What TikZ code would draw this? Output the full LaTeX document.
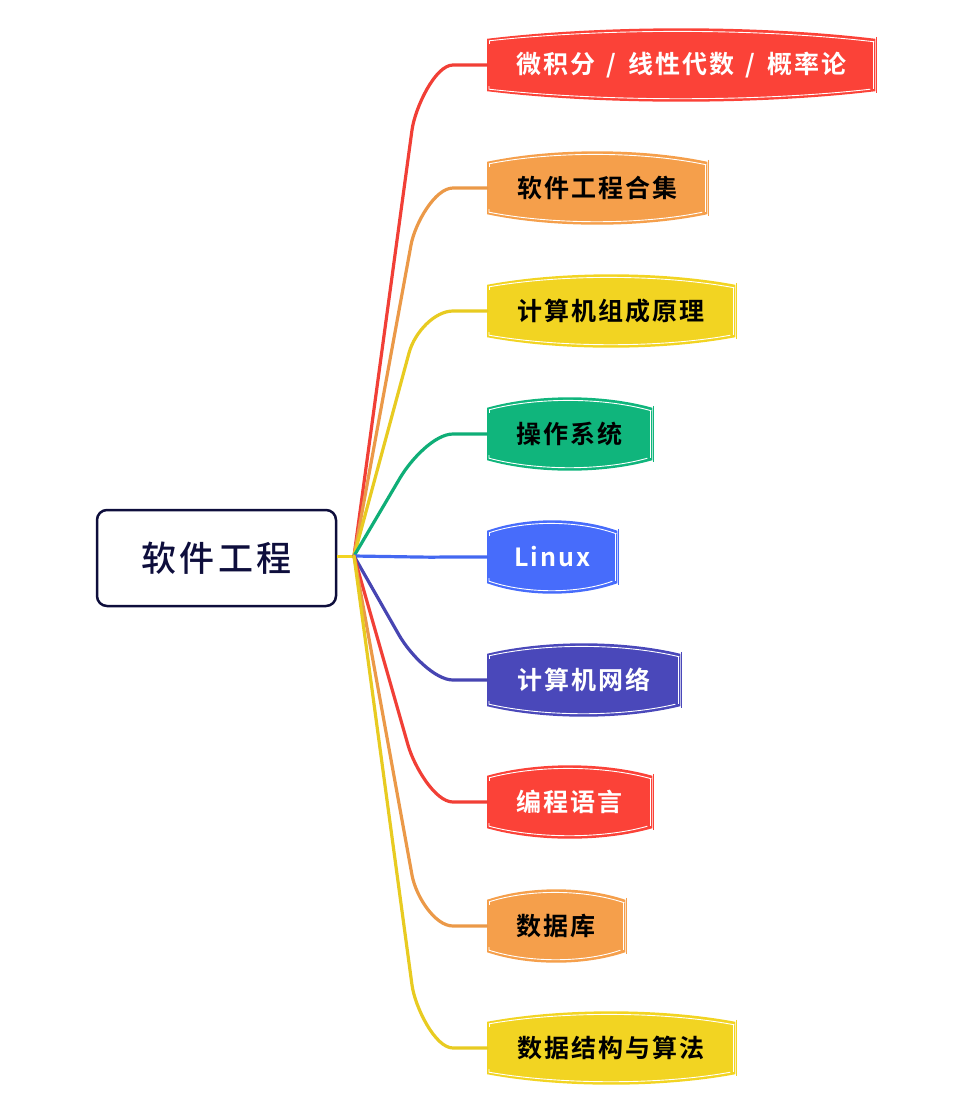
\documentclass[tikz,border=0pt]{standalone}
\usepackage{fontspec}
\usetikzlibrary{calc,backgrounds}
\newfontfamily\cjkbold[LetterSpace=8]{Noto Sans CJK SC Bold}
\newfontfamily\cjkroot[LetterSpace=9]{Noto Sans CJK SC Medium}
\definecolor{cRed}{HTML}{FB4238}
\definecolor{cOrange}{HTML}{F59F4B}
\definecolor{cYellow}{HTML}{F2D422}
\definecolor{cGreen}{HTML}{10B57C}
\definecolor{cBlue}{HTML}{476CFB}
\definecolor{cIndigo}{HTML}{4A48BA}
\definecolor{cRoot}{HTML}{0E0E3C}
\tikzset{
  rootbox/.style={draw=cRoot, line width=2.5pt, rounded corners=10pt, minimum width=239pt, minimum height=96pt, text=cRoot, font=\cjkroot\fontsize{35}{35}\selectfont},
  leafbox/.style={anchor=west, minimum height=52pt, inner sep=0pt, font=\cjkbold\fontsize{25}{25}\selectfont},
  link/.style={line width=3.2pt, line cap=round, line join=round},
}
% barrel shaped sketch behind a leaf: #1 node, #2 colour
\newcommand{\barrel}[2]{
  \begin{pgfonlayer}{background}
    \fill[#2] (#1.north west) .. controls ($(#1.north west)!.3!(#1.north east)+(0,-14)$) and ($(#1.north west)!.7!(#1.north east)+(0,-14)$) .. (#1.north east)
      -- (#1.south east) .. controls ($(#1.south east)!.3!(#1.south west)+(0,14)$) and ($(#1.south east)!.7!(#1.south west)+(0,14)$) .. (#1.south west) -- cycle;
    \draw[#2, line width=.7pt] ($(#1.north east)+(1,-2)$) -- ($(#1.south east)+(1,2)$);
    \draw[white, line width=.9pt] ($(#1.north west)+(2,2)$) .. controls ($(#1.north west)!.3!(#1.north east)+(0,-10.7)$) and ($(#1.north west)!.7!(#1.north east)+(0,-10.7)$) .. ($(#1.north east)+(-1,3)$);
    \draw[white, line width=.9pt] ($(#1.north east)+(-2,2)$) -- ($(#1.south east)+(-2,-2)$);
    \draw[white, line width=.9pt] ($(#1.north west)+(2,5)$) -- ($(#1.north west)+(2,2)$);
    \draw[white, line width=.9pt] ($(#1.south west)+(2,-5)$) -- ($(#1.south west)+(2,-2)$) .. controls ($(#1.south west)!.3!(#1.south east)+(0,10.7)$) and ($(#1.south west)!.7!(#1.south east)+(0,10.7)$) .. ($(#1.south east)+(-5,-2)$);
  \end{pgfonlayer}
}
\begin{document}
\begin{tikzpicture}[x=1pt, y=-1pt]
    \useasboundingbox (0,0) rectangle (968,1104);
    \node[rootbox] (root) at (216.5,558) {软件工程};
    \coordinate (hub) at (354,556);
    \draw[cYellow, line width=3pt] (root.east |- hub) -- (hub);
    \foreach \nm/\lab/\fillcol/\txtcol/\wid/\yy/\bx/\by in {
        calc/{微积分 \hspace{4pt}/\hspace{4pt} 线性代数 \hspace{4pt}/\hspace{4pt} 概率论}/cRed/white/388/65/75/65,
        soft/{软件工程合集}/cOrange/black/220/188/76/57,
        arch/{计算机组成原理}/cYellow/black/248/311/78/42,
        os/{操作系统}/cGreen/black/165/434/87/44,
        linux/{Linux}/cBlue/white/130/557/70/0,
        net/{计算机网络}/cIndigo/white/193/680/88/-45,
        lang/{编程语言}/cRed/white/165/802/79/-57,
        db/{数据库}/cOrange/black/138/926/75/-51,
        algo/{数据结构与算法}/cYellow/black/248/1048/75/-63}{
      \node[leafbox, minimum width=\wid pt, text=\txtcol] (\nm) at (487,\yy) {\lab};
      \barrel{\nm}{\fillcol}
      \coordinate (bend) at ($(\nm.west)+(-\bx,\by)$);
      \draw[link, \fillcol!96!black] (hub) -- (bend) .. controls ($(bend)!-22pt!(hub)$) and ($(\nm.west)+(-52,0)$) .. ($(\nm.west)+(-34,0)$) -- (\nm.west);
    }
\end{tikzpicture}
\end{document}
